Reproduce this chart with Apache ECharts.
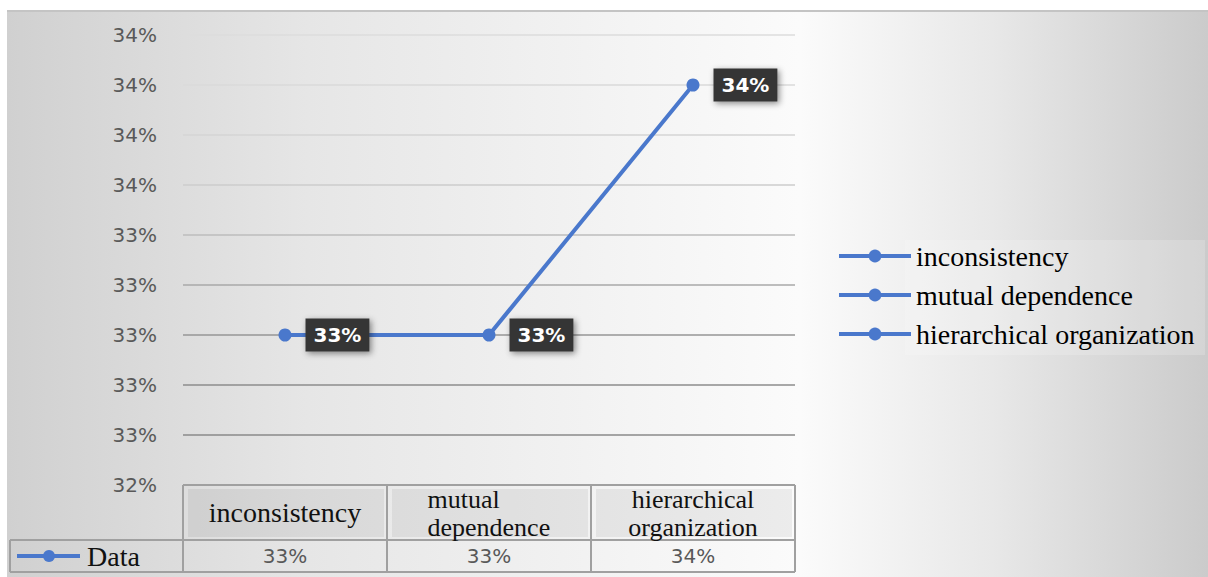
<!DOCTYPE html>
<html><head><meta charset="utf-8">
<script src="https://cdn.jsdelivr.net/npm/echarts@6/dist/echarts.min.js"></script>
<style>
html,body{margin:0;padding:0;background:#fff;}
#bg{position:absolute;left:7px;top:10px;width:1201px;height:567px;border-top:2px solid #c4c4c4;box-sizing:border-box;
background:linear-gradient(to right,#d0d0d0 0%,#e6e6e6 25%,#f3f3f3 50%,#fbfbfb 66%,#e8e8e8 82%,#cbcbcb 100%);}
#chart{position:absolute;left:0;top:0;width:1208px;height:577px;}
</style></head>
<body>
<div id="bg"></div>
<div id="chart"></div>
<script>
// ---- data ----
const categories = ['inconsistency', 'mutual dependence', 'hierarchical organization'];
const seriesName = 'Data';
const values = [33, 33, 34];           // percent
const yMin = 32.4, yMax = 34.2, yStep = 0.2;

const pct = v => Math.round(v) + '%';
const lineColor = '#4a78cc';
const serif = 'Liberation Serif';
const sans = 'DejaVu Sans';
const catFont = 28;
const wrapFont = 26;

// measure text width for left-aligned wrapped label
const mctx = document.createElement('canvas').getContext('2d');
mctx.font = wrapFont + 'px "' + serif + '"';
const wrapW = Math.ceil(mctx.measureText('dependence').width);

const chart = echarts.init(document.getElementById('chart'), null, {renderer: 'svg'});

const legendSeries = categories.map(c => ({
  name: c, type: 'line', data: [], color: lineColor,
  symbol: 'circle', symbolSize: 11, lineStyle: {width: 4, color: lineColor},
  itemStyle: {color: lineColor}
}));

const option = {
  backgroundColor: 'transparent',
  animation: false,
  grid: {left: 183, right: 413, top: 35, bottom: 92},
  legend: {
    orient: 'vertical', left: 832, top: 237,
    data: categories, itemWidth: 72, itemHeight: 16, itemGap: 11,
    lineStyle: {width: 4},
    textStyle: {fontFamily: serif, fontSize: catFont, color: '#000'}
  },
  xAxis: [{
    type: 'category', data: categories, gridIndex: 0, position: 'bottom',
    boundaryGap: true,
    axisLine: {show: false}, axisTick: {show: false},
    axisLabel: {
      interval: 0, margin: 0,
      formatter: (v, i) => {
        if (v.indexOf(' ') < 0) return '{s|' + v + '}';
        const parts = v.split(' ');
        const st = i === 1 ? 'ml' : 'm';
        return parts.map(s => '{' + st + '|' + s + '}').join('\n');
      },
      rich: {
        s: {fontFamily: serif, fontSize: catFont, color: '#111', lineHeight: 55},
        m: {fontFamily: serif, fontSize: wrapFont, color: '#111', lineHeight: 28},
        ml: {fontFamily: serif, fontSize: wrapFont, color: '#111', lineHeight: 28, width: wrapW, align: 'left'}
      }
    }
  }, {
    type: 'category', data: categories, gridIndex: 0, position: 'bottom', offset: 55,
    axisLine: {show: false}, axisTick: {show: false},
    axisLabel: {
      interval: 0, margin: 6,
      formatter: (v, i) => pct(values[i]),
      fontFamily: sans, fontSize: 20, color: '#595959', lineHeight: 20
    }
  }],
  yAxis: {
    type: 'value', min: yMin, max: yMax, interval: yStep,
    axisLine: {show: false}, axisTick: {show: false},
    axisLabel: {formatter: v => pct(v), margin: 26, fontFamily: sans, fontSize: 20, color: '#595959'},
    splitLine: {lineStyle: {width: 1.5, color: ['#9a9a9a', '#8a8a8a', '#8c8c8c', '#969696', '#a8a8a8', '#bcbcbc', '#cccccc', '#d4d4d4', '#dadada', '#dcdcdc']}}
  },
  series: [{
    name: seriesName, type: 'line', data: values, xAxisIndex: 0,
    color: lineColor, symbol: 'circle', symbolSize: 13,
    lineStyle: {width: 4, color: lineColor}, itemStyle: {color: lineColor},
    label: {
      show: true, position: 'right', distance: 14,
      formatter: p => pct(p.value),
      fontFamily: sans, fontWeight: 'bold', fontSize: 20, color: '#fff',
      backgroundColor: '#363636', padding: [7, 8, 6, 8],
      shadowBlur: 6, shadowColor: 'rgba(0,0,0,0.45)', shadowOffsetX: 2, shadowOffsetY: 2
    },
    z: 5
  }].concat(legendSeries)
};
chart.setOption(option);

// ---- data table frame (positions derived from the axes) ----
const c0 = chart.convertToPixel({xAxisIndex: 0}, categories[0]);
const c1 = chart.convertToPixel({xAxisIndex: 0}, categories[1]);
const cw = c1 - c0;
const tableLeft = c0 - cw / 2;
const tableRight = tableLeft + cw * categories.length;
const tTop = chart.convertToPixel({yAxisIndex: 0}, yMin);
const rowH1 = 55, rowH2 = 32, headLeft = 10;
const mid = tTop + rowH1, bot = mid + rowH2;
const border = {stroke: '#a0a0a0', lineWidth: 2};
const g = [];
categories.forEach((c, i) => {
  const x = tableLeft + i * cw;
  g.push({type: 'rect', z: -1, shape: {x: x + 5, y: tTop + 4, width: cw - 8, height: rowH1 - 7}, style: {fill: 'rgba(0,0,0,0.06)'}});
});
g.push({type: 'rect', z: -1, shape: {x: 905, y: 240, width: 300, height: 115}, style: {fill: 'rgba(255,255,255,0.18)'}});
g.push({type: 'line', shape: {x1: tableLeft, y1: tTop, x2: tableRight, y2: tTop}, style: border});
g.push({type: 'line', shape: {x1: headLeft, y1: mid, x2: tableRight, y2: mid}, style: border});
g.push({type: 'line', shape: {x1: headLeft, y1: bot, x2: tableRight, y2: bot}, style: border});
g.push({type: 'line', shape: {x1: headLeft, y1: mid, x2: headLeft, y2: bot}, style: border});
for (let i = 0; i <= categories.length; i++) {
  const x = tableLeft + i * cw;
  g.push({type: 'line', shape: {x1: x, y1: tTop, x2: x, y2: bot}, style: border});
}
const ky = (mid + bot) / 2;
g.push({type: 'line', shape: {x1: 17, y1: ky, x2: 80, y2: ky}, style: {stroke: lineColor, lineWidth: 4}});
g.push({type: 'circle', shape: {cx: 49, cy: ky, r: 6}, style: {fill: lineColor}});
g.push({type: 'text', x: 87, y: ky, style: {text: seriesName, font: catFont + 'px "Liberation Serif"', fill: '#111', verticalAlign: 'middle'}});
chart.setOption({graphic: g});
</script>
</body></html>
